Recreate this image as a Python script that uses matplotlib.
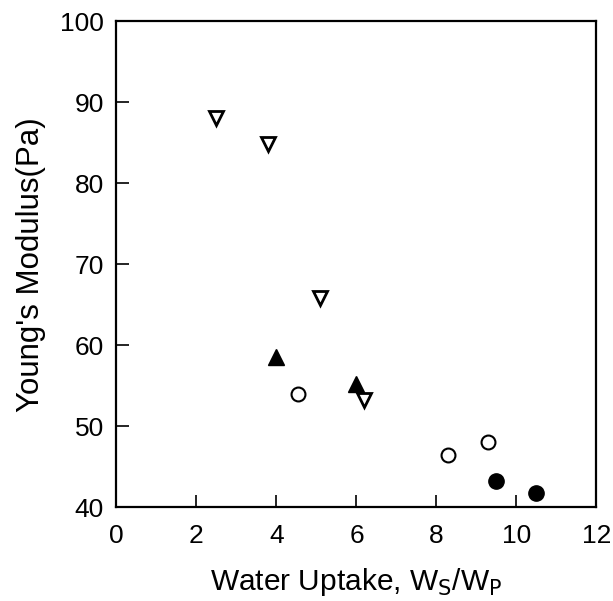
import matplotlib
matplotlib.use("Agg")
import matplotlib.pyplot as plt

plt.rcParams["font.family"] = ["Liberation Sans", "DejaVu Sans"]

# open down triangles
tri_open_x = [2.5, 3.8, 5.1, 6.2]
tri_open_y = [88.0, 84.8, 65.8, 53.2]
# filled up triangles
tri_fill_x = [4.0, 6.0]
tri_fill_y = [58.5, 55.2]
# open circles
circ_open_x = [4.55, 8.3, 9.3]
circ_open_y = [54.0, 46.4, 48.0]
# filled circles
circ_fill_x = [9.5, 10.5]
circ_fill_y = [43.2, 41.7]

xticks = [0, 2, 4, 6, 8, 10, 12]
yticks = [40, 50, 60, 70, 80, 90, 100]

fig = plt.figure(figsize=(6.13, 6.01), dpi=100)
ax = fig.add_axes([0.190, 0.156, 0.783, 0.809])

ax.plot(tri_open_x, tri_open_y, linestyle="none", marker="v", markersize=10,
        markerfacecolor="white", markeredgecolor="black", markeredgewidth=2)
ax.plot(tri_fill_x, tri_fill_y, linestyle="none", marker="^", markersize=11,
        markerfacecolor="black", markeredgecolor="black")
ax.plot(circ_open_x, circ_open_y, linestyle="none", marker="o", markersize=10,
        markerfacecolor="white", markeredgecolor="black", markeredgewidth=1.5)
ax.plot(circ_fill_x, circ_fill_y, linestyle="none", marker="o", markersize=11,
        markerfacecolor="black", markeredgecolor="black")

ax.set_xlim(0, 12)
ax.set_ylim(40, 100)
ax.set_xticks(xticks)
ax.set_yticks(yticks)
ax.tick_params(axis="both", direction="in", length=9, width=1.2, labelsize=19)
ax.tick_params(axis="x", pad=12, top=False)
ax.tick_params(axis="y", pad=9, right=False)
for s in ax.spines.values():
    s.set_linewidth(1.6)

ax.set_xlabel("Water Uptake, W$_\\mathrm{S}$/W$_\\mathrm{P}$", fontsize=21.5, labelpad=13)
ax.set_ylabel("Young's Modulus(Pa)", fontsize=22.5, labelpad=10)

fig.savefig("out.png", dpi=100)
